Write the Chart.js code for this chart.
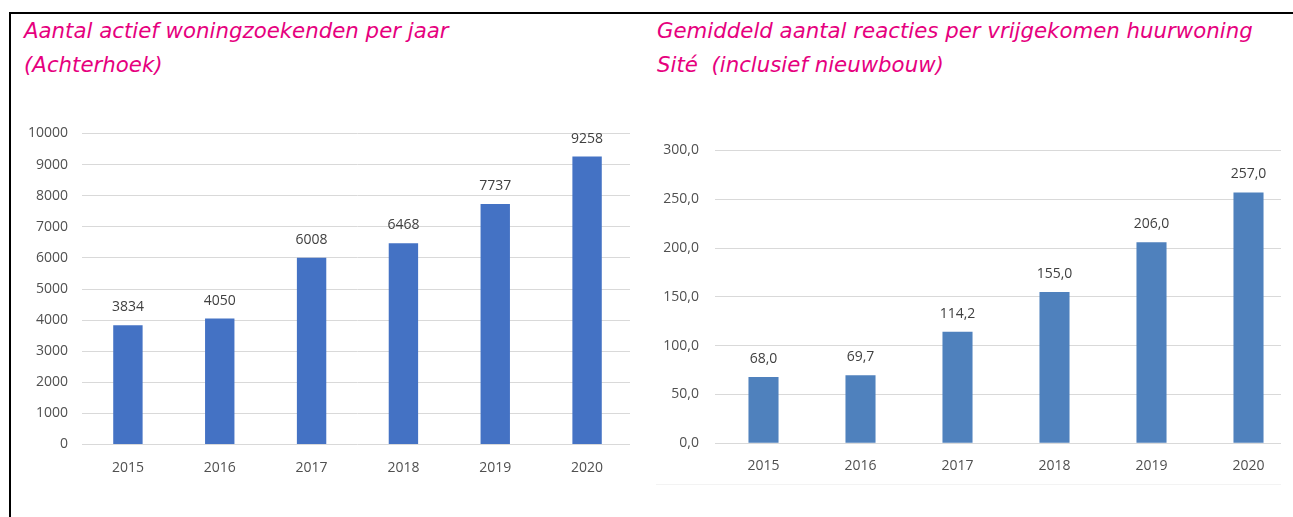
<!DOCTYPE html>
<html>
<head>
<meta charset="utf-8">
<script src="https://cdn.jsdelivr.net/npm/chart.js@4/dist/chart.umd.min.js"></script>
<style>
  html, body { margin: 0; padding: 0; background: #fff; width: 1293px; height: 517px; overflow: hidden; }
  .frame { position: absolute; left: 9px; top: 12px; width: 1300px; height: 520px; border-top: 2px solid #000; border-left: 2px solid #000; }
  .title { position: absolute; top: 14px; font-family: "DejaVu Sans", Verdana, sans-serif; font-style: italic; font-size: 21.3px; line-height: 34px; color: #e6007e; white-space: nowrap; }
  .chart-box { position: absolute; top: 100px; height: 390px; overflow: hidden; }
</style>
</head>
<body>
<div class="frame"></div>
<div class="title" style="left:24px;">Aantal actief woningzoekenden per jaar<br>(Achterhoek)</div>
<div class="title" style="left:657px;">Gemiddeld aantal reacties per vrijgekomen huurwoning<br>Sité&nbsp; (inclusief nieuwbouw)</div>

<div class="chart-box" style="left:20px;width:610px;"><canvas id="left" width="620" height="390"></canvas></div>
<div class="chart-box" style="left:640px;width:641px;"><canvas id="right" width="660" height="390"></canvas></div>
<div style="position:absolute;left:656px;top:484px;width:625px;height:1px;background:#f3f3f3;"></div>

<script>
const years = ['2015', '2016', '2017', '2018', '2019', '2020'];
const woningzoekenden = [3834, 4050, 6008, 6468, 7737, 9258];
const reacties = [68.0, 69.7, 114.2, 155.0, 206.0, 257.0];

const tickFont = { family: '"Open Sans", sans-serif', size: 14 };
const comma = v => v.toFixed(1).replace('.', ',');

// simple value labels above the bars
const barLabels = {
  id: 'barLabels',
  afterDatasetsDraw(chart, args, opts) {
    const ctx = chart.ctx;
    const meta = chart.getDatasetMeta(0);
    const data = chart.data.datasets[0].data;
    ctx.save();
    ctx.font = '14px "Open Sans", sans-serif';
    ctx.fillStyle = '#404040';
    ctx.textAlign = 'center';
    ctx.textBaseline = 'middle';
    meta.data.forEach((bar, i) => {
      ctx.fillText(opts.format(data[i]), bar.x, bar.y - opts.offset);
    });
    ctx.restore();
  }
};

function makeChart(id, values, color, max, step, fmt, cfg) {
  return new Chart(document.getElementById(id), {
    type: 'bar',
    data: {
      labels: years,
      datasets: [{ data: values, backgroundColor: color, borderWidth: 0,
        categoryPercentage: 1, barPercentage: cfg.bar }]
    },
    plugins: [barLabels],
    options: {
      responsive: false,
      animation: false,
      layout: { padding: cfg.padding },
      plugins: {
        legend: { display: false },
        tooltip: { enabled: false },
        barLabels: { format: fmt, offset: cfg.offset }
      },
      scales: {
        x: {
          grid: { display: false },
          border: { display: false },
          ticks: { color: '#505050', font: tickFont, padding: cfg.xPad },
          afterFit: s => { s.height = 35; }
        },
        y: {
          min: 0, max: max,
          grid: { color: '#d9d9d9', drawTicks: false },
          border: { display: false },
          ticks: { stepSize: step, color: '#505050', font: tickFont, padding: cfg.yPad, callback: v => fmt(v) },
          afterFit: s => { s.width = cfg.yWidth; }
        }
      }
    }
  });
}

makeChart('left', woningzoekenden, '#4472c4', 10000, 1000, v => String(v), {
  bar: 0.32, offset: 18, xPad: 7.5, yPad: 14, yWidth: 62,
  padding: { top: 33.5, bottom: 10.5, left: 0, right: 7 }
});
makeChart('right', reacties, '#4f81bd', 300, 50, comma, {
  bar: 0.31, offset: 18, xPad: 6, yPad: 16, yWidth: 75,
  padding: { top: 50.5, bottom: 11.7, left: 0, right: 3 }
});
</script>
</body>
</html>
